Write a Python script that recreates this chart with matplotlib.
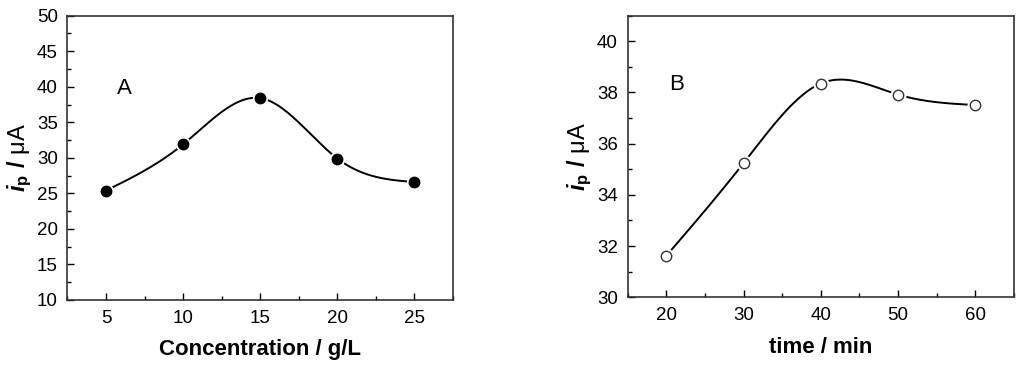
#!/usr/bin/env python3

'''Peak current vs concentration (A) and vs time (B).'''

import numpy as np
import matplotlib
matplotlib.use('Agg')
import matplotlib.pyplot as plt
from matplotlib.ticker import MultipleLocator


CONC = [5, 10, 15, 20, 25]
IP_CONC = [25.4, 31.9, 38.4, 29.9, 26.6]

TIME = [20, 30, 40, 50, 60]
IP_TIME = [31.62, 35.24, 38.35, 37.92, 37.51]

Y_LABEL = r'$i_{\mathrm{p}}\ \mathrm{/}\ $' + '\u03bcA'

plt.rcParams['font.family'] = ['Liberation Sans', 'DejaVu Sans']
plt.rcParams['mathtext.fontset'] = 'custom'
plt.rcParams['mathtext.it'] = 'Liberation Sans:italic:bold'
plt.rcParams['mathtext.rm'] = 'Liberation Sans:bold'


def spline(x, y, num=200):
    '''Natural cubic spline through the points, for the smooth line.'''
    x = np.asarray(x, float)
    y = np.asarray(y, float)
    n = len(x)
    h = np.diff(x)
    mat = np.zeros((n, n))
    rhs = np.zeros(n)
    mat[0, 0] = mat[-1, -1] = 1
    for i in range(1, n - 1):
        mat[i, i - 1] = h[i - 1]
        mat[i, i] = 2 * (h[i - 1] + h[i])
        mat[i, i + 1] = h[i]
        rhs[i] = 3 * ((y[i + 1] - y[i]) / h[i] - (y[i] - y[i - 1]) / h[i - 1])
    c = np.linalg.solve(mat, rhs)
    xs = np.linspace(x[0], x[-1], num)
    idx = np.clip(np.searchsorted(x, xs) - 1, 0, n - 2)
    dx = xs - x[idx]
    b = (y[1:] - y[:-1]) / h - h * (2 * c[:-1] + c[1:]) / 3
    d = (c[1:] - c[:-1]) / (3 * h)
    ys = y[idx] + b[idx] * dx + c[idx] * dx ** 2 + d[idx] * dx ** 3
    return xs, ys


def format_axis(axis):
    '''Ticks and spines like the Origin style.'''
    axis.tick_params(which='both', direction='in', top=False, right=False,
                     labelsize=13.5, pad=7)
    axis.tick_params(which='major', length=5, width=1)
    axis.tick_params(which='minor', length=3, width=1)
    for spine in axis.spines.values():
        spine.set_linewidth(1.2)
        spine.set_color('#333333')


fig = plt.figure(figsize=(10.24, 3.70), dpi=100)
ax_a = fig.add_axes([0.0659, 0.1892, 0.3765, 0.7684])
ax_b = fig.add_axes([0.6130, 0.1965, 0.3770, 0.7611])

# panel A
xs, ys = spline(CONC, IP_CONC)
ax_a.plot(xs, ys, '-', color='black', lw=1.4, zorder=2)
ax_a.plot(CONC, IP_CONC, 'o', ms=10, color='white', mec='white', zorder=3)
ax_a.plot(CONC, IP_CONC, 'o', ms=7.5, color='black', zorder=4)
ax_a.set_xlim(2.5, 27.5)
ax_a.set_ylim(10, 50)
ax_a.xaxis.set_major_locator(MultipleLocator(5))
ax_a.xaxis.set_minor_locator(MultipleLocator(2.5))
ax_a.yaxis.set_major_locator(MultipleLocator(5))
ax_a.yaxis.set_minor_locator(MultipleLocator(2.5))
ax_a.text(6.2, 39.8, 'A', fontsize=16, ha='center', va='center')
ax_a.set_xlabel('Concentration / g/L', fontsize=16, fontweight='bold',
                labelpad=9)
ax_a.set_ylabel(Y_LABEL, fontsize=17, labelpad=2)
format_axis(ax_a)

# panel B
xs, ys = spline(TIME, IP_TIME)
ax_b.plot(xs, ys, '-', color='black', lw=1.4, zorder=2)
ax_b.plot(TIME, IP_TIME, 'o', ms=10.5, color='white', mec='white', zorder=3)
ax_b.plot(TIME, IP_TIME, 'o', ms=7.5, mfc='white', mec='#333333', mew=1.0,
          zorder=4)
ax_b.set_xlim(15, 65)
ax_b.set_ylim(30, 41)
ax_b.xaxis.set_major_locator(MultipleLocator(10))
ax_b.xaxis.set_minor_locator(MultipleLocator(5))
ax_b.yaxis.set_major_locator(MultipleLocator(2))
ax_b.yaxis.set_minor_locator(MultipleLocator(1))
ax_b.text(21.3, 38.3, 'B', fontsize=16, ha='center', va='center')
ax_b.set_xlabel('time / min', fontsize=16, fontweight='bold', labelpad=9)
ax_b.set_ylabel(Y_LABEL, fontsize=17, labelpad=2)
format_axis(ax_b)

fig.savefig('out.png', dpi=100)
